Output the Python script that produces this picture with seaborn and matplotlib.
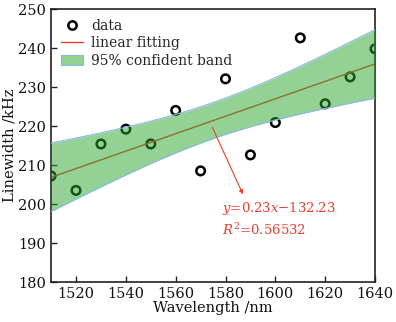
import numpy as np
import pandas as pd
import seaborn as sns
import matplotlib
matplotlib.use("Agg")
import matplotlib.pyplot as plt
from matplotlib.lines import Line2D
from matplotlib.patches import Patch

wavelength = [1510, 1520, 1530, 1540, 1550, 1560, 1570, 1580, 1590, 1600, 1610, 1620, 1630, 1640]
linewidth = [207.2, 203.5, 215.4, 219.2, 215.4, 224.0, 208.5, 232.1, 212.6, 220.9, 242.6, 225.7, 232.6, 239.8]
xticks = [1520, 1540, 1560, 1580, 1600, 1620, 1640]
yticks = [180, 190, 200, 210, 220, 230, 240, 250]
legend_labels = ["data", "linear fitting", "95% confident band"]
eq_text = r"$y$=0.23$x$−132.23"
r2_text = r"$R^2$=0.56532"

sns.set_style("ticks")
plt.rcParams["font.family"] = ["DejaVu Serif"]
plt.rcParams["mathtext.fontset"] = "dejavuserif"

df = pd.DataFrame({"wl": wavelength, "lw": linewidth})
x = np.array(wavelength, float)
y = np.array(linewidth, float)
n = len(x)
b, a = np.polyfit(x, y, 1)
res = y - (a + b * x)
s = np.sqrt(np.sum(res ** 2) / (n - 2))
tval = 2.179
xg = np.linspace(x.min(), x.max(), 200)
yg = a + b * xg
se = s * np.sqrt(1.0 / n + (xg - x.mean()) ** 2 / np.sum((x - x.mean()) ** 2))
lo, hi = yg - tval * se, yg + tval * se

fig = plt.figure(figsize=(3.96, 3.22), dpi=100)
ax = fig.add_axes([0.129, 0.124, 0.818, 0.848])

red = "#e8402c"
sns.scatterplot(data=df, x="wl", y="lw", ax=ax, s=38, facecolor="none",
                edgecolor="black", linewidth=1.8, zorder=2, legend=False)
sns.lineplot(x=xg, y=yg, ax=ax, color=red, lw=1.0, zorder=2)
ax.fill_between(xg, lo, hi, color="#2aa52a", alpha=0.5, lw=0, zorder=3)
ax.plot(xg, lo, color="#8ab8e8", lw=0.8, zorder=3)
ax.plot(xg, hi, color="#8ab8e8", lw=0.8, zorder=3)

ax.annotate("", xy=(1587, 202.5), xytext=(1574.7, 219.7),
            arrowprops=dict(arrowstyle="-|>", color=red, lw=0.8,
                            mutation_scale=6, shrinkA=0, shrinkB=0), zorder=5)
ax.text(1578.6, 198.9, eq_text, color=red, fontsize=9.5, va="center", ha="left")
ax.text(1578.6, 193.3, r2_text, color=red, fontsize=9.5, va="center", ha="left")

ax.set_xlim(1510, 1640)
ax.set_ylim(180, 250)
ax.set_xticks(xticks)
ax.set_yticks(yticks)
ax.tick_params(direction="in", length=4, width=1, labelsize=10.5, color="#222222",
               labelcolor="#111111")
for sp in ax.spines.values():
    sp.set_linewidth(1.2)
    sp.set_color("#222222")
    sp.set_visible(True)
ax.set_xlabel("Wavelength /nm", fontsize=10.5, labelpad=0, color="#111111")
ax.set_ylabel("Linewidth /kHz", fontsize=10.5, labelpad=1, color="#111111")

handles = [
    Line2D([], [], marker="o", ls="none", markerfacecolor="none",
           markeredgecolor="black", markeredgewidth=1.8, markersize=6),
    Line2D([], [], color=red, lw=1.0),
    Patch(facecolor="#93d293", edgecolor="#8ab8e8", lw=0.8),
]
ax.legend(handles, legend_labels, loc="upper left", frameon=False,
          fontsize=10, handlelength=1.6, handletextpad=0.6,
          borderaxespad=0.3, labelspacing=0.25)

fig.savefig("out.png", dpi=100)
